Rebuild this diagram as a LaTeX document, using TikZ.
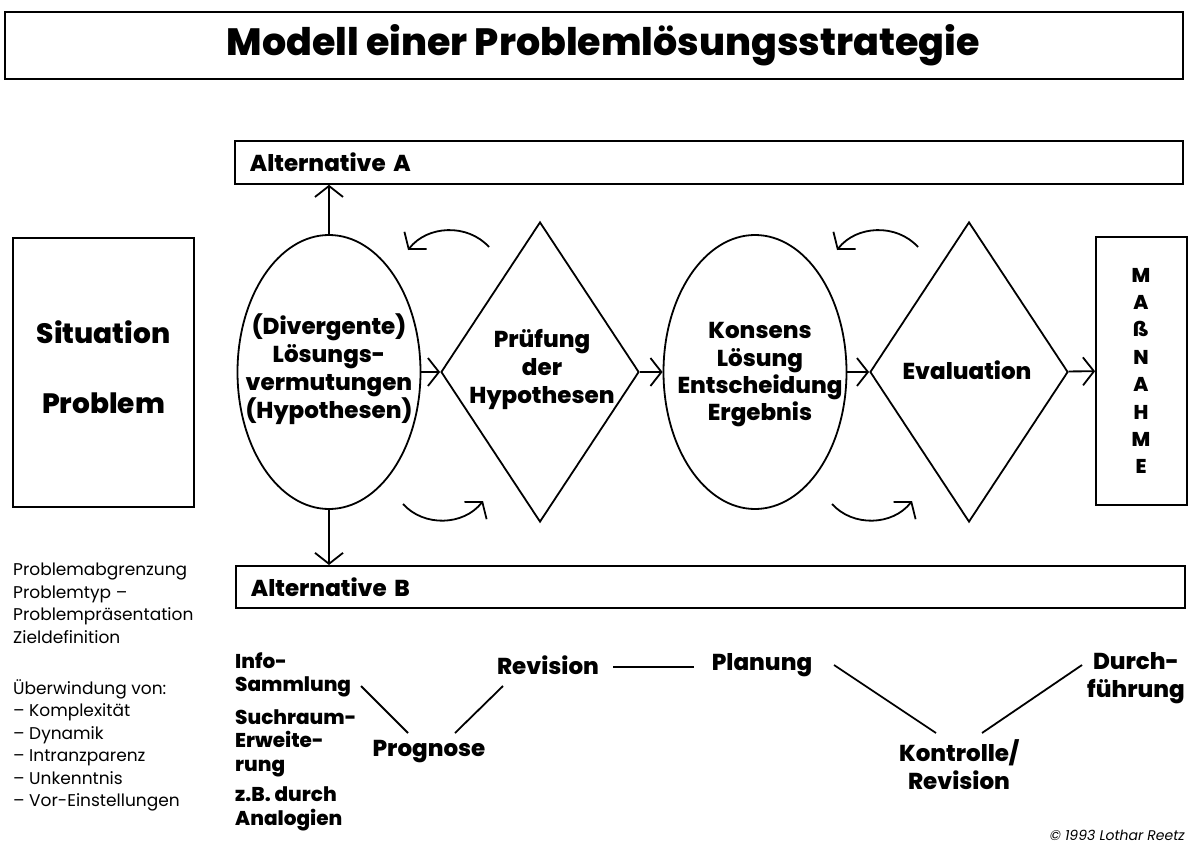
\documentclass[tikz,border=0pt]{standalone}
\usepackage{fontspec}
\setmainfont{Poppins}[BoldFont={* ExtraBold}]
\usetikzlibrary{shapes.geometric,arrows.meta,calc}

\begin{document}
\begin{tikzpicture}[x=1pt,y=-1pt]
  \tikzstyle{box}=[draw, line width=1.8pt, rectangle, inner sep=0pt]
  \tikzstyle{oval}=[draw, line width=1.8pt, ellipse, inner sep=0pt, minimum width=183pt, minimum height=274pt]
  \tikzstyle{raute}=[draw, line width=1.8pt, diamond, inner sep=0pt, minimum width=198pt, minimum height=300pt]
  \tikzstyle{fett}=[font=\fontsize{23}{28}\selectfont\bfseries, align=center, inner sep=0pt]
  \tikzstyle{klein}=[font=\fontsize{20}{23.5}\selectfont\bfseries, align=left, inner sep=0pt]
  \tikzstyle{duenn}=[font=\fontsize{17}{22.5}\selectfont, align=left, inner sep=0pt]
  \tikzstyle{pfeil}=[line width=1.8pt, -{Straight Barb[length=11pt,width=28pt]}]
  \tikzstyle{linie}=[line width=1.8pt]
  \useasboundingbox (0,0) rectangle (1189,843);

  % Titel
  \node[box, minimum width=1178pt, minimum height=67pt] (titel) at (594,45.5) {};
  \node[font=\fontsize{38}{42}\selectfont\bfseries, inner sep=0pt] (titeltxt) at (603,45) {Modell einer Problemlösungsstrategie};

  % Alternativen
  \node[fett, box, anchor=north west, minimum height=43pt, text width=918pt, inner xsep=15pt, align=left] (altA) at (234,140) {Alternative A};
  \node[fett, box, anchor=north west, minimum height=42pt, text width=919pt, inner xsep=15pt, align=left] (altB) at (235,565) {Alternative B};

  % Ausgangslage
  \node[box, minimum width=181pt, minimum height=269pt] (sit) at (103.5,372.5) {};
  \node[fett, font=\fontsize{28}{70}\selectfont\bfseries] (sittxt) at (103.5,367) {Situation\\Problem};

  % Kette
  \node[oval] (hypo) at (329,372) {};
  \node[fett] (hypotxt) at (329,369) {(Divergente)\\Lösungs-\\vermutungen\\(Hypothesen)};
  \node[raute] (pruef) at (540,372) {};
  \node[fett] (prueftxt) at (542,370) {Prüfung\\der\\Hypothesen};
  \node[oval] (kons) at (755,372) {};
  \node[fett, font=\fontsize{23}{27.3}\selectfont\bfseries] (konstxt) at (760,375) {Konsens\\Lösung\\Entscheidung\\Ergebnis};
  \node[raute] (eval) at (969,372) {};
  \node[fett] (evaltxt) at (967,370) {Evaluation};
  \node[box, minimum width=91pt, minimum height=268pt] (mass) at (1141.5,371) {};
  \node[fett, font=\fontsize{20}{27.4}\selectfont\bfseries] (masstxt) at (1141,371) {M\\A\\ß\\N\\A\\H\\M\\E};

  \draw[pfeil] (hypo) -- (pruef);
  \draw[pfeil] (pruef) -- (kons);
  \draw[pfeil] (kons) -- (eval);
  \draw[pfeil] (eval) -- (mass);
  \draw[pfeil] (hypo.north) -- (hypo.north |- altA.south);
  \draw[pfeil] (hypo.south) -- (hypo.south |- altB.north);

  % Rueckkopplung
  \draw[pfeil] ($(pruef)+(-51,-125)$) to[bend right=50] ($(pruef)+(-132,-122)$);
  \draw[pfeil] ($(pruef)+(-137,132)$) to[bend right=50] ($(pruef)+(-57,129)$);
  \draw[pfeil] ($(eval)+(-51,-125)$) to[bend right=50] ($(eval)+(-132,-122)$);
  \draw[pfeil] ($(eval)+(-137,132)$) to[bend right=50] ($(eval)+(-57,129)$);

  % linke Spalte
  \node[duenn, anchor=north west] (abgr) at (13,563) {Problemabgrenzung\\Problemtyp –\\Problempräsentation\\Zieldefinition};
  \node[duenn, anchor=north west] (ueber) at (13,679) {Überwindung von:\\– Komplexität\\– Dynamik\\– Intranzparenz\\– Unkenntnis\\– Vor-Einstellungen};

  % Ablauf unten
  \node[klein, anchor=west] (info) at (235,675) {Info-\\Sammlung};
  \node[klein, anchor=west] (such) at (235,743) {Suchraum-\\Erweite-\\rung};
  \node[klein, anchor=west] (zb) at (235,809) {z.B. durch\\Analogien};
  \node[fett] (prog) at (429,752) {Prognose};
  \node[fett] (rev) at (548,665) {Revision};
  \node[fett] (plan) at (762,665) {Planung};
  \node[fett] (kontr) at (959,765) {Kontrolle/\\Revision};
  \node[fett] (durch) at (1136,678) {Durch-\\führung};

  \draw[linie] ($(prog)+(-68,-66)$) -- ($(prog)+(-21,-19)$);
  \draw[linie] ($(prog)+(26,-19)$) -- ($(rev)+(-45,21)$);
  \draw[linie] ($(rev)+(65,2)$) -- ($(plan)+(-68,2)$);
  \draw[linie] ($(plan)+(72,0)$) -- ($(kontr)+(-23,-32)$);
  \draw[linie] ($(kontr)+(23,-32)$) -- ($(durch)+(-54,-13)$);

  \node[font=\fontsize{14}{16}\selectfont\itshape, anchor=east, inner sep=0pt] (copy) at (1185,835) {© 1993 Lothar Reetz};
\end{tikzpicture}
\end{document}
